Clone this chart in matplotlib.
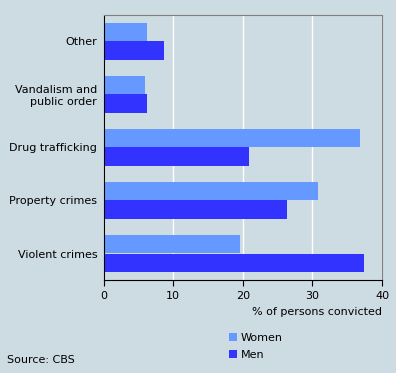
import matplotlib.pyplot as plt
import numpy as np

categories = ["Violent crimes", "Property crimes", "Drug trafficking",
              "Vandalism and\npublic order", "Other"]
women = [19.6, 30.8, 36.8, 5.9, 6.3]
men = [37.4, 26.3, 20.9, 6.3, 8.7]

bg = "#cddce2"
c_women = "#6699ff"
c_men = "#3333ff"

plt.rcParams['font.family'] = ['DejaVu Sans']
plt.rcParams['font.size'] = 8

fig = plt.figure(figsize=(3.96, 3.73), dpi=100, facecolor=bg)
ax = fig.add_axes([103.5 / 396, 1 - 280 / 373, (382 - 103.5) / 396, (280 - 15) / 373])
ax.set_facecolor(bg)

y = np.arange(len(categories))
h = 0.358
ax.barh(y + h / 2, women, height=h, color=c_women, label="Women", zorder=2)
ax.barh(y - h / 2, men, height=h, color=c_men, label="Men", zorder=2)

ax.set_xlim(0, 40)
ax.set_ylim(-0.5, 4.5)
ax.set_xticks([0, 10, 20, 30, 40])
ax.set_yticks(y)
ax.set_yticklabels(categories, ha="right", linespacing=1.2)
ax.tick_params(axis="y", length=0, pad=4.5)
ax.tick_params(axis="x", length=4, color="black", pad=4)
ax.grid(axis="x", color="white", linewidth=1, zorder=0)

for s in ["top", "right"]:
    ax.spines[s].set_color("#808080")
for s in ["left", "bottom"]:
    ax.spines[s].set_color("black")

ax.set_xlabel("% of persons convicted", ha="right", x=1.0, labelpad=4)

handles, labels = ax.get_legend_handles_labels()
fig.legend(handles, labels, loc="upper left", bbox_to_anchor=(223 / 396, 1 - 327 / 373),
           frameon=False, handlelength=0.75, handleheight=0.75, handletextpad=0.35,
           labelspacing=0.65, borderpad=0)

fig.text(7 / 396, 1 - 360 / 373, "Source: CBS", va="center", ha="left")

fig.savefig("out.png", dpi=100, facecolor=bg)
